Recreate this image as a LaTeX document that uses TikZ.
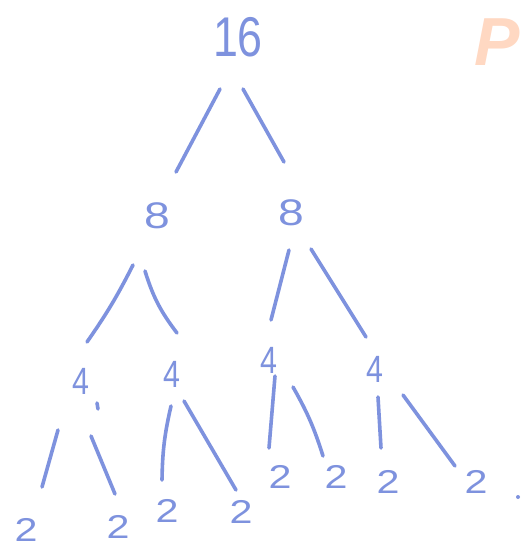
\documentclass[tikz,border=0pt]{standalone}
\usepackage{fontspec}
\setmainfont{Liberation Sans}
\newfontfamily\handfont[FakeStretch=0.8]{Liberation Sans}
\newfontfamily\widefont[FakeStretch=1.25]{Liberation Sans}
\usepackage{xcolor}
\definecolor{penblue}{RGB}{126,146,222}
\definecolor{peach}{RGB}{255,216,194}
\tikzset{
  stroke/.style={color=penblue, line width=3.6pt, line cap=round},
  num/.style={inner sep=0pt, text=penblue, font=\handfont},
  numbig/.style={num, font=\handfont\fontsize{56}{56}\selectfont},
  nummid/.style={num, font=\widefont\fontsize{37}{37}\selectfont},
  numfour/.style={num, font=\handfont\fontsize{38}{38}\selectfont},
  numtwo/.style={num, font=\widefont\fontsize{33}{33}\selectfont},
}

\begin{document}
\begin{tikzpicture}[x=1pt,y=-1pt]
    \useasboundingbox (0,0) rectangle (524,549);
    \fill[white] (0,0) rectangle (524,549);
    \node[inner sep=0pt, anchor=west, text=peach, font=\bfseries\itshape\fontsize{68}{68}\selectfont] (mark) at (474,42) {P};
    % numbers
    \node[numbig] (n16) at (238,37) {16};
    \node[nummid] (n8a) at (157,216) {8};
    \node[nummid] (n8b) at (291,213) {8};
    \node[numfour] (n4a) at (81,381) {4};
    \node[numfour] (n4b) at (172,374) {4};
    \node[numfour] (n4c) at (269,360) {4};
    \node[numfour] (n4d) at (375,369) {4};
    \node[numtwo] (n2a) at (26,530) {2};
    \node[numtwo] (n2b) at (118,527) {2};
    \node[numtwo] (n2c) at (167,511) {2};
    \node[numtwo] (n2d) at (241,512) {2};
    \node[numtwo] (n2e) at (280,477) {2};
    \node[numtwo] (n2f) at (336,477) {2};
    \node[numtwo] (n2g) at (388,482) {2};
    \node[numtwo] (n2h) at (476,482) {2};
    % branches
    \draw[stroke] ([shift={(-18,52)}]n16.center) -- ([shift={(19,-44)}]n8a.center);
    \draw[stroke] ([shift={(5,52)}]n16.center) -- ([shift={(-7,-51)}]n8b.center);
    \draw[stroke] ([shift={(-24,49)}]n8a.center) to[bend left=4] ([shift={(6,-39)}]n4a.center);
    \draw[stroke] ([shift={(-12,55)}]n8a.center) to[bend right=10] ([shift={(5,-41)}]n4b.center);
    \draw[stroke] ([shift={(-2,37)}]n8b.center) -- ([shift={(2,-40)}]n4c.center);
    \draw[stroke] ([shift={(20,36)}]n8b.center) -- ([shift={(-9,-32)}]n4d.center);
    \draw[stroke] ([shift={(-23,49)}]n4a.center) -- ([shift={(16,-43)}]n2a.center);
    \draw[stroke] ([shift={(10,55)}]n4a.center) -- ([shift={(-3,-33)}]n2b.center);
    \draw[stroke] ([shift={(-1,32)}]n4b.center) to[bend right=6] ([shift={(-5,-31)}]n2c.center);
    \draw[stroke] ([shift={(12,27)}]n4b.center) -- ([shift={(-5,-22)}]n2d.center);
    \draw[stroke] ([shift={(6,16)}]n4c.center) -- ([shift={(-11,-29)}]n2e.center);
    \draw[stroke] ([shift={(24,27)}]n4c.center) to[bend left=6] ([shift={(-13,-21)}]n2f.center);
    \draw[stroke] ([shift={(3,28)}]n4d.center) -- ([shift={(-7,-34)}]n2g.center);
    \draw[stroke] ([shift={(28,26)}]n4d.center) -- ([shift={(-21,-16)}]n2h.center);
    % stray pen marks
    \draw[stroke] ([shift={(16,22)}]n4a.center) -- ([shift={(17,28)}]n4a.center);
    \fill[penblue] ([shift={(42,15)}]n2h.center) circle (2pt);
\end{tikzpicture}
\end{document}
